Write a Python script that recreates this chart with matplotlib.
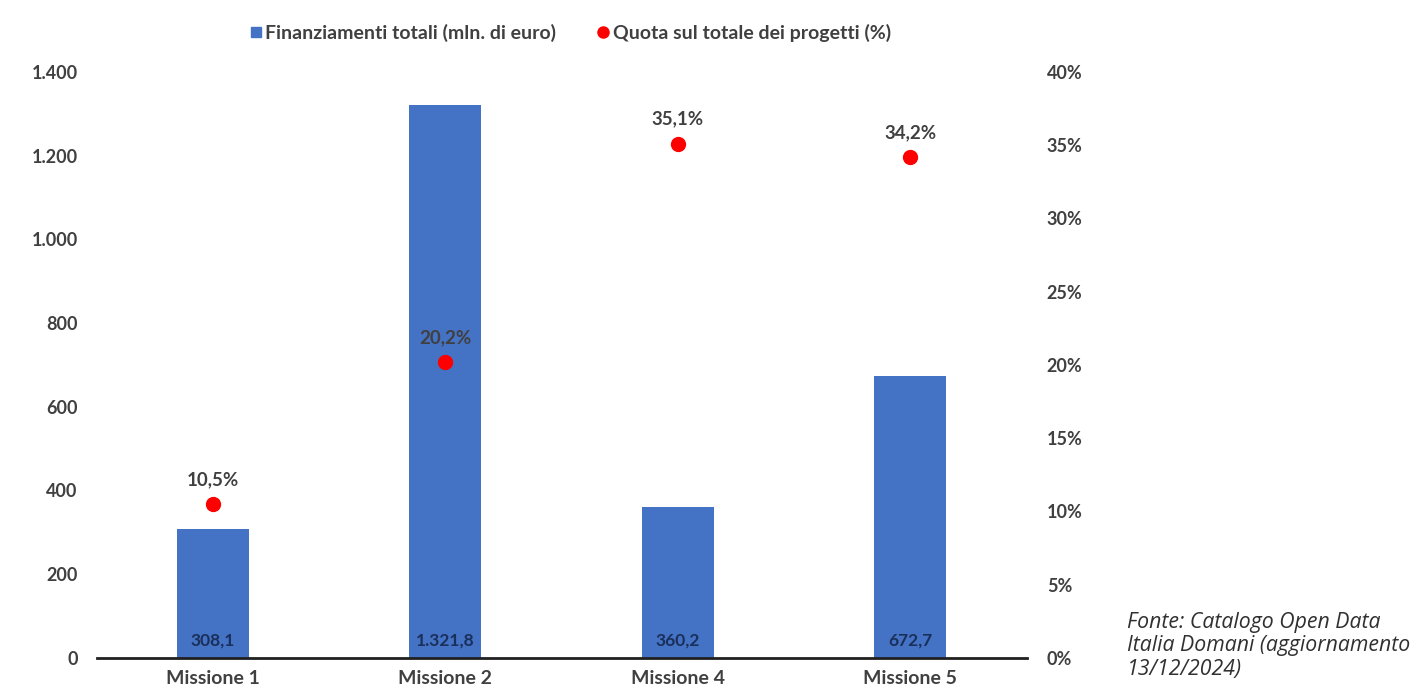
import matplotlib
matplotlib.use("Agg")
import matplotlib.pyplot as plt
from matplotlib.ticker import FuncFormatter
from matplotlib.lines import Line2D

plt.rcParams['font.family'] = ['Lato', 'DejaVu Sans']

# dati
missioni = ['Missione 1', 'Missione 2', 'Missione 4', 'Missione 5']
finanziamenti = [308.1, 1321.8, 360.2, 672.7]   # mln di euro
quota = [10.5, 20.2, 35.1, 34.2]                # %
fonte = ['Fonte: Catalogo Open Data', 'Italia Domani (aggiornamento', '13/12/2024)']

BLU = '#4472C4'
ROSSO = '#FF0000'
GRIGIO = '#404040'
NAVY = '#1A2F5A'


def ita_num(v, dec=1):
    s = f"{v:,.{dec}f}"
    return s.replace(',', 'X').replace('.', ',').replace('X', '.')


fig = plt.figure(figsize=(14.2, 6.91), dpi=100)
ax = fig.add_axes([0.068, 0.048, 0.655, 0.848])
ax2 = ax.twinx()

x = range(len(missioni))
ax.bar(x, finanziamenti, width=0.31, color=BLU, zorder=2)
ax.set_ylim(0, 1400)
ax.set_xlim(-0.5, len(missioni) - 0.5)
ax.set_yticks(range(0, 1401, 200))
ax.yaxis.set_major_formatter(FuncFormatter(lambda v, p: ita_num(v, 0)))

for i, v in enumerate(finanziamenti):
    ax.annotate(ita_num(v), (i, 0), xytext=(0, 9), textcoords='offset pixels',
                ha='center', va='bottom', fontsize=12.5, fontweight='bold', color=NAVY)

ax2.scatter(x, quota, s=100, color=ROSSO, zorder=3)
ax2.set_ylim(0, 40)
ax2.set_yticks(range(0, 41, 5))
ax2.yaxis.set_major_formatter(FuncFormatter(lambda v, p: f"{int(v)}%"))
for i, q in enumerate(quota):
    ax2.annotate(ita_num(q) + '%', (i, q), xytext=(0, 16), textcoords='offset pixels',
                 ha='center', va='bottom', fontsize=13.5, fontweight='bold', color=GRIGIO)

ax.set_xticks(list(x))
ax.set_xticklabels(missioni)

for a in (ax, ax2):
    for s in a.spines.values():
        s.set_visible(False)
    a.tick_params(length=0, labelsize=13, labelcolor=GRIGIO)
    for lab in a.get_yticklabels() + a.get_xticklabels():
        lab.set_fontweight('bold')
ax.spines['bottom'].set_visible(True)
ax.spines['bottom'].set_linewidth(2)
ax.spines['bottom'].set_color('#202020')
ax.tick_params(axis='y', pad=13.5)
ax.tick_params(axis='x', pad=9, labelsize=14)
ax2.tick_params(axis='y', pad=14.5)

handles = [
    Line2D([], [], marker='s', linestyle='', color=BLU, markersize=7),
    Line2D([], [], marker='o', linestyle='', color=ROSSO, markersize=8),
]
leg = fig.legend(handles, ['Finanziamenti totali (mln. di euro)', 'Quota sul totale dei progetti (%)'],
                 loc='center', bbox_to_anchor=(0.401, 0.952), ncol=2, frameon=False,
                 handletextpad=0.1, columnspacing=2.0, handlelength=0.8,
                 prop={'size': 14, 'weight': 'bold'})
for t in leg.get_texts():
    t.set_color(GRIGIO)

for k, riga in enumerate(fonte):
    fig.text(1127 / 1420, 1 - (628 + 23.5 * k) / 691, riga, fontsize=15.3, style='italic',
             color='#303030', va='baseline', ha='left',
             family=['Open Sans', 'DejaVu Sans'])

fig.savefig('out.png', dpi=100)
